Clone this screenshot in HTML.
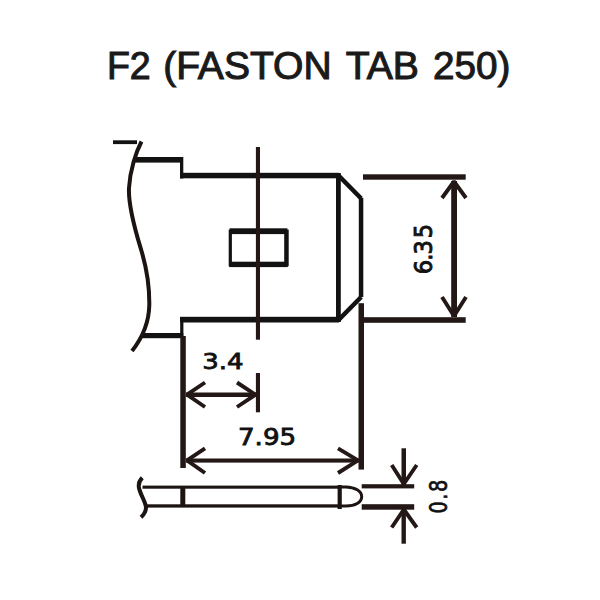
<!DOCTYPE html>
<html lang="en">
<head>
<meta charset="utf-8">
<title>F2 (FASTON TAB 250)</title>
<style>
html,body{margin:0;padding:0;background:#fff;}
body{width:600px;height:600px;overflow:hidden;position:relative;}
svg{position:absolute;left:0;top:0;display:block;}
.t{font-family:"Liberation Sans",sans-serif;font-weight:normal;fill:#1a1a1a;stroke:#1a1a1a;stroke-width:1.05px;stroke-linejoin:miter;}
.d{font-family:"DejaVu Sans","Liberation Sans",sans-serif;fill:#111;stroke:#111;stroke-width:0.8px;}
</style>
</head>
<body>
<svg width="600" height="600" viewBox="0 0 600 600">
<rect width="600" height="600" fill="#fff"/>
<!-- title -->
<text class="t" font-size="38.2" transform="translate(106.93,79.4) scale(0.9833,1)">F2</text>
<text class="t" font-size="38.2" transform="translate(163.18,79.4) scale(1.0222,1)">(FASTON</text>
<text class="t" font-size="38.2" transform="translate(345.70,79.4) scale(1.0254,1)">TAB</text>
<text class="t" font-size="38.2" transform="translate(433.09,79.4) scale(1.0122,1)">250)</text>

<!-- outline (black) -->
<g fill="#121212" stroke="none">
  <rect x="113" y="140.3" width="24" height="3.8"/>
  <rect x="135" y="157" width="48" height="5.6"/>
  <rect x="180" y="157" width="3.3" height="21.5"/>
  <rect x="180" y="172.8" width="158.8" height="5.5"/>
  <rect x="336" y="173" width="4.8" height="149"/>
  <rect x="358.8" y="198" width="4.5" height="99"/>
  <rect x="180" y="316.8" width="159" height="5.7"/>
  <rect x="180.2" y="317" width="3.2" height="21"/>
  <rect x="141" y="333" width="42.3" height="5.2"/>
  <!-- small rect -->
  <rect x="229.6" y="228.3" width="57.8" height="5.8"/>
  <rect x="229.2" y="261.7" width="58.6" height="5.4"/>
  <rect x="228.7" y="229.6" width="3.2" height="36.6"/>
  <rect x="284.2" y="229.6" width="4.5" height="36.6"/>
</g>
<g fill="none" stroke="#121212" stroke-width="4.6" stroke-linecap="butt">
  <path d="M338.5 175.5 L361.2 198.5"/>
  <path d="M338.5 320 L361.2 297"/>
</g>
<!-- break curve -->
<path d="M141.5 141.5 C136 152 130 170 129 188 C128 208 137 236 141.5 251 C146 266 149.5 288 149.3 305 C149 322 143 337 132 351" fill="none" stroke="#1c1412" stroke-width="4" stroke-linecap="butt"/>

<!-- dimension lines (brownish black) -->
<g fill="#231815" stroke="none">
  <rect x="255.9" y="147" width="4.1" height="192.7"/>
  <rect x="255.9" y="373" width="4.1" height="39.3"/>
  <rect x="363" y="174.3" width="102.7" height="5.4"/>
  <rect x="361" y="317.2" width="104.7" height="5.6"/>
  <rect x="451.2" y="181" width="5.8" height="136"/>
  <rect x="180.3" y="336" width="5.5" height="132"/>
  <rect x="358.5" y="303.2" width="5.5" height="166.4"/>
  <rect x="186" y="392.5" width="70" height="4.5"/>
  <rect x="186" y="458.5" width="172.5" height="4.1"/>
  <!-- 0.8 -->
  <rect x="361.7" y="484.2" width="52.5" height="4.2"/>
  <rect x="361.7" y="504.2" width="52.5" height="5.5"/>
  <rect x="401.5" y="448.3" width="4.5" height="36"/>
  <rect x="401.5" y="509" width="4.4" height="34.7"/>
</g>
<g fill="none" stroke="#231815" stroke-width="3.9" stroke-linecap="butt" stroke-linejoin="bevel">
  <path d="M442 198 L454 181.5 L466 198"/>
  <path d="M442 297 L454 316 L466 297"/>
  <path d="M205 382.5 L187 394.7 L205 407"/>
  <path d="M237 382.5 L255.5 394.7 L237 407"/>
  <path d="M205 448.3 L187 460.4 L205 473"/>
  <path d="M338 448.3 L358 460.4 L338 473"/>
  <path d="M391.7 465 L403.8 484 L416.7 465"/>
  <path d="M391.7 527.5 L403.8 509.5 L416.7 527.5"/>
</g>

<!-- side view -->
<g fill="#1c1412" stroke="none">
  <rect x="142.5" y="485.6" width="198" height="3.1"/>
  <rect x="146" y="504.3" width="195" height="3.3"/>
  <rect x="180.3" y="487" width="5" height="19"/>
  <rect x="337.6" y="485" width="4.2" height="24"/>
</g>
<path d="M340 487 L346 487 C355 487.3 361.7 491 361.7 496.7 C361.7 502.5 355 505.8 346 506 L340 506" fill="none" stroke="#1c1412" stroke-width="3"/>
<path d="M142.3 477.8 C139.5 480.5 138.2 484 139 488 C140.2 494 144.5 500 145.8 506 C146.5 510 144.5 514 141 517.3" fill="none" stroke="#1c1412" stroke-width="4"/>

<!-- dimension text -->
<text class="d" font-size="22" transform="translate(202.32,369.25) scale(1.1818,0.9943)">3.4</text>
<text class="d" font-size="22" transform="translate(237.97,444.80) scale(1.1880,1.0686)">7.95</text>
<text class="d" font-size="22" transform="translate(432.06,274.13) scale(1.1143,1.0280) rotate(-90)">6<tspan dx="-0.9">.</tspan><tspan dx="-1.1">3</tspan><tspan dx="1.8">5</tspan></text>
<text class="d" font-size="22" letter-spacing="1.85" style="stroke-width:0.6px" transform="translate(446.69,513.6) scale(1.0857,0.88) rotate(-90)">0.8</text>
</svg>
</body>
</html>
